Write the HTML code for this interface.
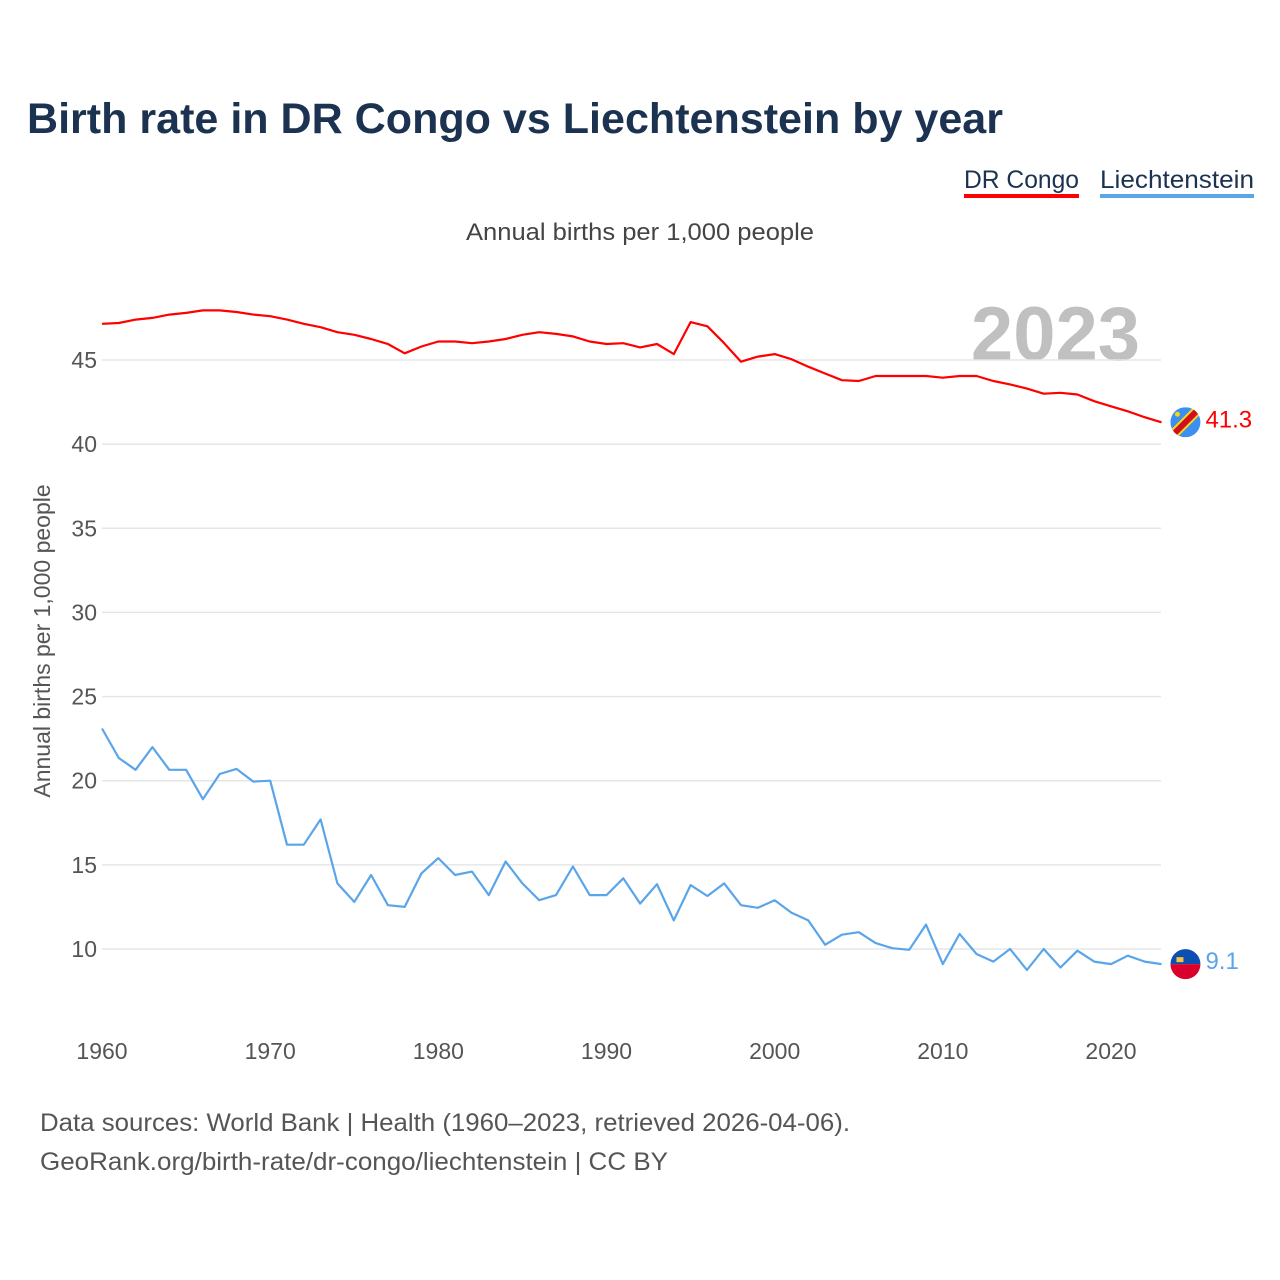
<!DOCTYPE html>
<html><head><meta charset="utf-8">
<style>
body{margin:0;background:#fff;font-family:"Liberation Sans",sans-serif;}
#wrap{position:relative;width:1280px;height:1280px;overflow:hidden;}
</style></head>
<body>
<div id="wrap">
<svg id="chart" width="1280" height="1280" xmlns="http://www.w3.org/2000/svg">
<text x="27" y="133" font-size="43" font-weight="bold" fill="#1b3250" textLength="976" lengthAdjust="spacingAndGlyphs">Birth rate in DR Congo vs Liechtenstein by year</text>
<g>
<text x="964" y="188" font-size="25" fill="#1b3250" textLength="115" lengthAdjust="spacingAndGlyphs">DR Congo</text>
<rect x="964" y="194" width="115" height="4" fill="#ff0000"/>
<text x="1100" y="188" font-size="25" fill="#1b3250" textLength="154" lengthAdjust="spacingAndGlyphs">Liechtenstein</text>
<rect x="1100" y="194" width="154" height="4" fill="#5aa5ea"/>
</g>
<text x="466" y="240" font-size="24" fill="#444" textLength="348" lengthAdjust="spacingAndGlyphs">Annual births per 1,000 people</text>
<text x="1140" y="360" font-size="76" font-weight="bold" fill="#c0c0c0" text-anchor="end">2023</text>
<text transform="translate(50,641) rotate(-90)" font-size="23" fill="#555" text-anchor="middle">Annual births per 1,000 people</text>
<g id="grid"></g><g id="yt"></g><g id="xt"></g><g id="lines"></g><g id="ends"></g>
<text x="40" y="1131" font-size="25" fill="#555" textLength="810" lengthAdjust="spacingAndGlyphs">Data sources: World Bank | Health (1960–2023, retrieved 2026-04-06).</text>
<text x="40" y="1170" font-size="25" fill="#555" textLength="628" lengthAdjust="spacingAndGlyphs">GeoRank.org/birth-rate/dr-congo/liechtenstein | CC BY</text>
</svg>
</div>
<script>
const years=[];for(let y=1960;y<=2023;y++)years.push(y);
const congo=[47.15,47.2,47.4,47.5,47.7,47.8,47.95,47.95,47.85,47.7,47.6,47.4,47.15,46.95,46.65,46.5,46.25,45.95,45.4,45.8,46.1,46.1,46.0,46.1,46.25,46.5,46.65,46.55,46.4,46.1,45.95,46.0,45.75,45.95,45.35,47.25,47.0,46.0,44.9,45.2,45.35,45.05,44.6,44.2,43.8,43.75,44.05,44.05,44.05,44.05,43.95,44.05,44.05,43.75,43.55,43.3,43.0,43.05,42.95,42.55,42.25,41.95,41.6,41.3];
const liech=[23.1,21.35,20.65,22.0,20.65,20.65,18.9,20.4,20.7,19.95,20.0,16.2,16.2,17.7,13.9,12.8,14.4,12.6,12.5,14.5,15.4,14.4,14.6,13.2,15.2,13.9,12.9,13.2,14.9,13.2,13.2,14.2,12.7,13.85,11.7,13.8,13.15,13.9,12.6,12.45,12.9,12.15,11.7,10.25,10.85,11.0,10.35,10.05,9.95,11.45,9.1,10.9,9.7,9.25,10.0,8.75,10.0,8.9,9.9,9.25,9.1,9.6,9.25,9.1];
const yTicks=[10,15,20,25,30,35,40,45];
const xTicks=[1960,1970,1980,1990,2000,2010,2020];
const NS="http://www.w3.org/2000/svg";
function X(yr){return 102+(yr-1960)*(1111-102)/60;}
function Y(v){return 949-(v-10)*(949-360)/35;}
function mk(tag,attrs,parent){const e=document.createElementNS(NS,tag);for(const k in attrs)e.setAttribute(k,attrs[k]);document.getElementById(parent).appendChild(e);return e;}
yTicks.forEach(v=>{
  const l=mk('line',{x1:102,x2:1161,y1:Y(v),y2:Y(v),stroke:'#e6e6e6','stroke-width':1.5},'grid');
  
  
  const t=mk('text',{x:97,y:Y(v)+8,'font-size':23,fill:'#555','text-anchor':'end'},'yt');
  t.textContent=v;
  
  
});
xTicks.forEach(v=>{
  const t=mk('text',{x:X(v),y:1059,'font-size':23,fill:'#555','text-anchor':'middle'},'xt');
  t.textContent=v;
  
  
});
function line(arr,color,name){
  const d=arr.map((v,i)=>(i?'L':'M')+X(years[i]).toFixed(1)+','+Y(v).toFixed(1)).join('');
  const p=mk('path',{d:d,fill:'none',stroke:color,'stroke-width':2.2,'stroke-linejoin':'round'},'lines');
  
  
}
line(congo,'#ff0000','series-dr-congo');
line(liech,'#5aa5ea','series-liechtenstein');
const ly=years[years.length-1];
const cv=congo[congo.length-1], lv=liech[liech.length-1];
const cx=X(ly)+24;
let g=mk('g',{},'ends');


let cp=mk('clipPath',{id:'c1'},'ends');cp.appendChild(document.createElementNS(NS,'circle'));
cp.firstChild.setAttribute('cx',cx);cp.firstChild.setAttribute('cy',Y(cv));cp.firstChild.setAttribute('r',15);
g.setAttribute('clip-path','url(#c1)');
[['rect',{x:cx-15,y:Y(cv)-15,width:30,height:30,fill:'#3b8ff0'}],
 ['line',{x1:cx-18,y1:Y(cv)+18,x2:cx+18,y2:Y(cv)-18,stroke:'#f7d618','stroke-width':10}],
 ['line',{x1:cx-18,y1:Y(cv)+18,x2:cx+18,y2:Y(cv)-18,stroke:'#ce1021','stroke-width':6}],
 ['circle',{cx:cx-8,cy:Y(cv)-8,r:2.5,fill:'#f7d618'}]].forEach(([t,a])=>{const e=document.createElementNS(NS,t);for(const k in a)e.setAttribute(k,a[k]);g.appendChild(e);});
let t=mk('text',{x:cx+20,y:Y(cv)+5,'font-size':24,fill:'#ff0000'},'ends');
t.textContent=cv.toFixed(1);


let g2=mk('g',{},'ends');


[['path',{d:`M${cx-15},${Y(lv)} A15,15 0 0 1 ${cx+15},${Y(lv)} Z`,fill:'#0c4fb0'}],
 ['path',{d:`M${cx-15},${Y(lv)} A15,15 0 0 0 ${cx+15},${Y(lv)} Z`,fill:'#d9002b'}],
 ['rect',{x:cx-9,y:Y(lv)-7,width:7,height:5,fill:'#f5c542'}]].forEach(([tg,a])=>{const e=document.createElementNS(NS,tg);for(const k in a)e.setAttribute(k,a[k]);g2.appendChild(e);});
t=mk('text',{x:cx+20,y:Y(lv)+5,'font-size':24,fill:'#5aa5ea'},'ends');
t.textContent=lv.toFixed(1);


</script>
</body></html>
